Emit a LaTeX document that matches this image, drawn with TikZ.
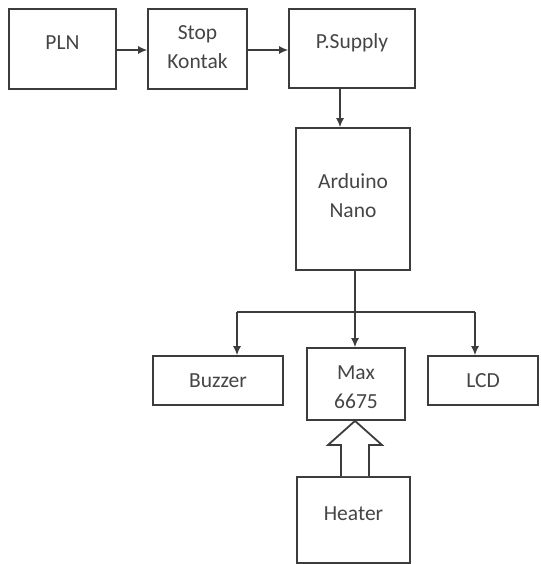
\documentclass[tikz,border=0pt]{standalone}
\usepackage{fontspec}
\setmainfont{Carlito}
\usetikzlibrary{arrows.meta}
\definecolor{ln}{HTML}{3C3C3C}
\definecolor{tx}{HTML}{454545}
\begin{document}
\begin{tikzpicture}[x=1pt,y=-1pt,
  box/.style={draw=ln,line width=1.8pt,rectangle,inner sep=0pt},
  lbl/.style={text=tx,font=\fontsize{21.5}{29}\selectfont,align=center,inner sep=0pt},
  conn/.style={draw=ln,line width=1.2pt},
  arr/.style={conn,-{Latex[length=9pt,width=8pt]}}]
\useasboundingbox (0,0) rectangle (540,564);
% boxes
\node[box,minimum width=107pt,minimum height=80pt] (pln) at (62.5,49) {};
\node[box,minimum width=99pt,minimum height=80pt] (stop) at (197.5,49) {};
\node[box,minimum width=126pt,minimum height=79pt] (psup) at (352,48.5) {};
\node[box,minimum width=114pt,minimum height=142pt] (ard) at (353,199) {};
\node[box,minimum width=130pt,minimum height=49pt] (buz) at (218,380.5) {};
\node[box,minimum width=98pt,minimum height=72pt] (max) at (356,384) {};
\node[box,minimum width=110pt,minimum height=49pt] (lcd) at (483,380.5) {};
\node[box,minimum width=113pt,minimum height=86pt] (heat) at (353.5,520) {};
% texts
\node[lbl] (plnt) at (62.5,43) {PLN};
\node[lbl] (stopt) at (197.5,47.5) {Stop\\Kontak};
\node[lbl] (psupt) at (352,43) {P.Supply};
\node[lbl] (ardt) at (353,196) {Arduino\\Nano};
\node[lbl] (buzt) at (218,380.5) {Buzzer};
\node[lbl] (maxt) at (356,387.5) {Max\\6675};
\node[lbl] (lcdt) at (483,380.5) {LCD};
\node[lbl] (heatt) at (353.5,514) {Heater};
% connectors
\draw[arr] (pln.east |- 0,50) -- (stop.west |- 0,50);
\draw[arr] (stop.east |- 0,50) -- (psup.west |- 0,50);
\draw[arr] (psup.south -| 340,0) -- (ard.north -| 340,0);
\draw[arr] (ard.south -| 355,0) -- (max.north -| 355,0);
\coordinate (bl) at (237,312);
\coordinate (br) at (475,312);
\draw[arr] (bl) -- (buz.north -| bl);
\draw[conn] (bl) -- (br);
\draw[arr] (br) -- (lcd.north -| br);
% hollow arrow heater -> max
\draw[draw=ln,line width=1.8pt,fill=white,line join=miter]
  (heat.north -| 341,0) -- (341,445) -- (328,445) -- (max.south -| 355,0)
  -- (382,445) -- (369,445) -- (heat.north -| 369,0);
\end{tikzpicture}
\end{document}
